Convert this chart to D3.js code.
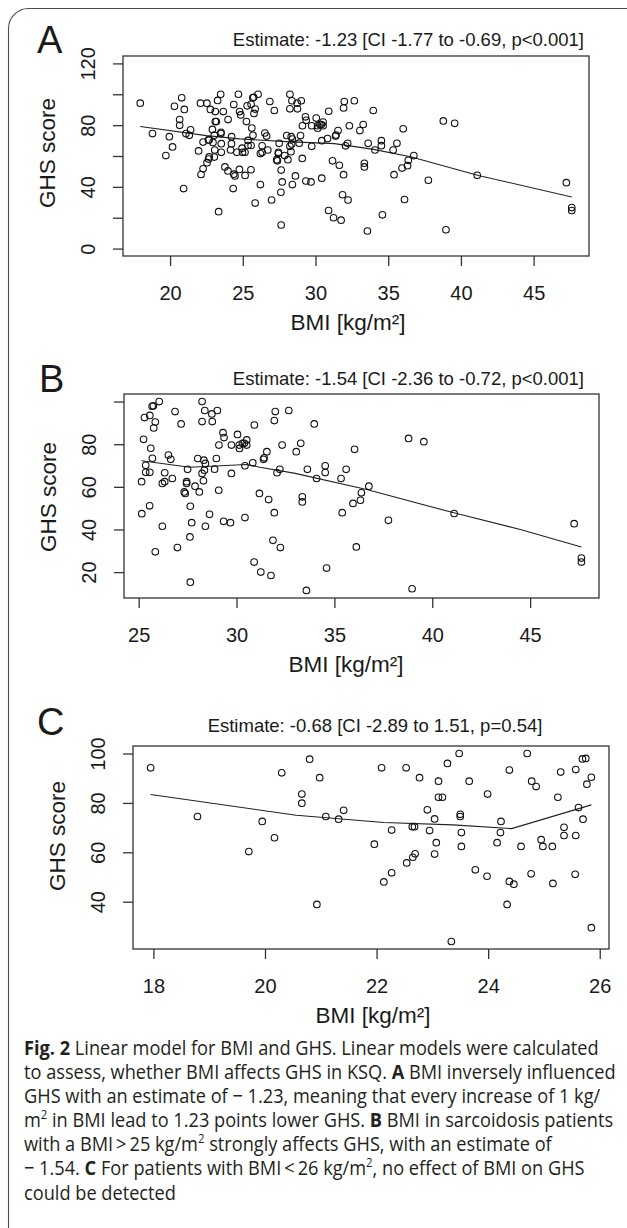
<!DOCTYPE html>
<html>
<head>
<meta charset="utf-8">
<script src="https://cdn.jsdelivr.net/npm/d3@7"></script>
<style>
  html, body { margin: 0; padding: 0; background: #fff; }
  svg { display: block; }
</style>
</head>
<body>
<svg id="fig"></svg>
<script>

// patients with BMI below 25 (shown in A and C)
var bmiUnder25 = [17.95,18.79,19.71,19.95,20.17,20.30,20.66,20.66,20.80,20.98,20.93,21.09,21.32,21.41,21.96,
  22.09,22.13,22.27,22.27,22.53,22.54,22.64,22.68,22.65,22.69,22.77,22.91,22.95,23.04,23.04,23.07,23.11,23.11,
  23.18,23.27,23.34,23.48,23.50,23.50,23.52,23.52,23.66,23.77,23.98,23.99,24.16,24.23,24.22,24.38,24.38,24.46,
  24.34,24.59,24.70,24.78,24.86,24.77,24.95,24.98];
var ghsUnder25 = [94.2,74.5,60.3,72.5,65.9,92.2,83.6,79.9,97.7,90.2,38.9,74.5,73.4,77.0,63.3,
  94.2,48.0,69.0,51.7,94.2,55.7,70.4,70.4,58.0,59.4,90.2,77.2,68.8,73.5,59.3,63.9,88.8,82.3,
  82.3,96.0,23.9,100,75.4,74.5,68.0,62.4,88.8,52.9,50.3,83.6,63.9,72.5,68.0,93.3,48.2,47.1,
  38.9,62.4,100,88.8,86.6,51.3,65.1,62.4];

// patients with BMI above 25 (shown in A and B, and in C when below 26)
var bmiOver25 = [25.15,25.16,25.25,25.30,25.36,25.36,25.57,25.56,25.57,25.62,25.69,25.75,25.70,25.77,25.85,25.85,
  26.05,26.86,27.17,28.24,28.38,28.74,29.02,28.24,28.76,29.31,29.36,29.10,29.74,30.05,30.14,30.30,30.40,30.52,30.52,30.15,30.91,31.98,31.93,32.67,32.33,33.05,33.28,
  26.52,26.64,26.33,26.21,26.33,26.72,27.50,27.45,27.45,27.33,27.38,27.88,28.10,28.02,28.33,28.41,28.36,28.24,28.31,28.97,28.88,29.09,29.74,
  27.64,26.21,27.71,27.62,26.98,28.41,28.62,29.34,29.69,30.43,27.64,
  30.43,30.83,31.38,31.41,31.55,32.07,32.21,31.17,31.64,31.93,31.86,32.24,30.90,31.24,31.76,
  33.97,33.62,34.09,34.53,34.53,33.36,33.36,34.60,33.57,36.03,35.60,35.34,35.40,35.95,36.33,36.38,36.76,36.12,37.76,38.79,39.57,38.97,41.12,47.25,47.62,47.62];
var ghsOver25 = [62.4,47.4,82.3,92.5,70.1,66.8,66.8,51.1,93.5,78.1,97.8,98.0,73.4,87.6,90.4,29.5,
  100,95.3,89.5,100,95.8,94.2,95.8,90.6,90.6,85.4,83.1,79.6,79.6,84.6,79.6,80.4,80.4,82.0,79.6,78.0,89.0,95.3,91.1,95.8,79.6,76.5,80.4,
  74.9,72.9,66.6,61.6,62.4,63.9,68.2,62.4,61.6,57.6,56.9,60.3,57.6,73.3,72.5,71.0,67.8,66.3,62.8,73.3,68.3,58.4,66.3,
  50.9,41.5,43.2,36.5,31.5,41.5,47.1,43.8,43.2,45.6,15.3,
  69.9,71.3,72.9,73.6,76.5,66.6,68.2,56.9,54.0,47.9,34.9,31.5,24.7,20.0,18.4,
  89.5,68.2,63.9,69.9,66.7,55.3,52.9,21.9,11.4,77.6,68.2,63.9,47.9,52.2,53.7,57.2,60.3,31.8,44.3,82.7,81.2,12.2,47.5,42.7,26.6,24.7];

// smoother lines
var lineA_bmi = [17.95,22.5,24.8,28.0,31.3,34.0,36.6,41.2,47.62];
var lineA_ghs = [79.1,73.2,71.1,69.3,68.0,64.3,59.3,47.4,33.4];
var lineB_bmi = [25.15,27.6,30.5,31.2,33.0,36.7,41.1,44.5,47.62];
var lineB_ghs = [72.2,69.2,70.5,69.2,66.3,58.6,47.8,40.0,31.8];
var lineC_bmi = [17.95,20.56,22.13,23.37,24.42,25.85];
var lineC_ghs = [83.4,75.0,72.1,71.1,69.6,79.2];

// ticks and labels
var xTicksA = [20,25,30,35,40,45];
var yTicksA = [0,20,40,60,80,100,120];
var yLabelsA = [0,40,80,120];
var xTicksB = [25,30,35,40,45];
var yTicksB = [20,40,60,80,100];
var yLabelsB = [20,40,60,80];
var xTicksC = [18,20,22,24,26];
var yTicksC = [40,60,80,100];
var yLabelsC = [40,60,80,100];

var titles = ["Estimate: -1.23 [CI -1.77 to -0.69, p<0.001]",
              "Estimate: -1.54 [CI -2.36 to -0.72, p<0.001]",
              "Estimate: -0.68 [CI -2.89 to 1.51, p=0.54]"];

var caption = [
  [["Fig. 2", "b"], ["  Linear model for BMI and GHS. Linear models were calculated"]],
  [["to assess, whether BMI affects GHS in KSQ. "], ["A", "b"], [" BMI inversely influenced"]],
  [["GHS with an estimate of \u2212 1.23, meaning that every increase of 1 kg/"]],
  [["m"], ["2", "sup"], [" in BMI lead to 1.23 points lower GHS. "], ["B", "b"], [" BMI in sarcoidosis patients"]],
  [["with a BMI\u2009>\u200925 kg/m"], ["2", "sup"], [" strongly affects GHS, with an estimate of"]],
  [["\u2212 1.54. "], ["C", "b"], [" For patients with BMI\u2009<\u200926 kg/m"], ["2", "sup"], [", no effect of BMI on GHS"]],
  [["could be detected"]]
];

var chartFont = "'Liberation Sans', Arial, Helvetica, sans-serif";
var ink = "#1a1a1a";

var svg = d3.select("#fig").attr("width", 627).attr("height", 1228);

svg.append("rect").attr("width", 627).attr("height", 1228).attr("fill", "#fff");

// rounded frame round the whole figure
svg.append("rect")
  .attr("x", 8.5).attr("y", 8.5)
  .attr("width", 680).attr("height", 1240)
  .attr("rx", 20)
  .attr("fill", "none")
  .attr("stroke", "#4a4a4a")
  .attr("stroke-width", 1.1);

// R style axis range: data extent plus 4% each side
function rRange(vals) {
  var e = d3.extent(vals);
  var pad = (e[1] - e[0]) * 0.04;
  return [e[0] - pad, e[1] + pad];
}

function renderPanel(p) {
  var box = p.box;
  var g = svg.append("g").attr("font-family", chartFont).attr("fill", ink);

  var x = d3.scaleLinear().domain(rRange(p.bmi)).range([box.left, box.right]);
  var y = d3.scaleLinear().domain(rRange(p.ylim || p.ghs)).range([box.bottom, box.top]);

  // x axis (box edge is the axis line)
  var xa = g.append("g")
    .attr("transform", `translate(0,${box.bottom})`)
    .call(d3.axisBottom(x).tickValues(p.xTicks).tickSize(10).tickPadding(20).tickFormat(d3.format("d")));
  xa.select(".domain").remove();
  xa.selectAll("line").attr("stroke", "#333").attr("stroke-width", 1.3);
  xa.selectAll("text").attr("font-size", 20).attr("fill", ink).attr("font-family", chartFont);

  // y axis with rotated labels
  var ya = g.append("g")
    .attr("transform", `translate(${box.left},0)`)
    .call(d3.axisLeft(y).tickValues(p.yTicks).tickSize(10)
      .tickFormat(d => p.yLabels.indexOf(d) >= 0 ? d : ""));
  ya.select(".domain").remove();
  ya.selectAll("line").attr("stroke", "#333").attr("stroke-width", 1.3);
  ya.selectAll("text")
    .attr("x", null).attr("dy", null)
    .attr("transform", "translate(-28,0) rotate(-90)")
    .attr("text-anchor", "middle")
    .attr("font-size", 20).attr("fill", ink).attr("font-family", chartFont);

  // plot box
  g.append("rect")
    .attr("x", box.left).attr("y", box.top)
    .attr("width", box.right - box.left).attr("height", box.bottom - box.top)
    .attr("fill", "none").attr("stroke", "#333").attr("stroke-width", 1.3);

  // smoother
  var line = d3.line().x(d => x(d[0])).y(d => y(d[1]));
  g.append("path")
    .datum(d3.zip(p.lineX, p.lineY))
    .attr("d", line)
    .attr("fill", "none").attr("stroke", "#222").attr("stroke-width", 1.1);

  // points
  g.append("g").selectAll("circle")
    .data(d3.zip(p.bmi, p.ghs))
    .join("circle")
      .attr("cx", d => x(d[0]))
      .attr("cy", d => y(d[1]))
      .attr("r", 3.3)
      .attr("fill", "none")
      .attr("stroke", "#111")
      .attr("stroke-width", 1.1);

  // texts
  g.append("text").text(p.letter)
    .attr("x", p.letterX).attr("y", p.letterY)
    .attr("font-size", 38);

  g.append("text").text(p.title)
    .attr("x", p.titleX).attr("y", p.titleY)
    .attr("text-anchor", p.titleAnchor)
    .attr("font-size", 18.5);

  g.append("text").text("BMI [kg/m\u00b2]")
    .attr("x", p.xlabX).attr("y", box.bottom + 74)
    .attr("text-anchor", "middle")
    .attr("font-size", 22.5);

  g.append("text").text("GHS score")
    .attr("transform", `translate(${box.left - 68},${p.ylabY}) rotate(-90)`)
    .attr("text-anchor", "middle")
    .attr("font-size", 22.5);
}

var allBmi = bmiUnder25.concat(bmiOver25);
var allGhs = ghsUnder25.concat(ghsOver25);

var cIdx = d3.range(bmiOver25.length).filter(i => bmiOver25[i] < 26);
var bmiC = bmiUnder25.concat(cIdx.map(i => bmiOver25[i]));
var ghsC = ghsUnder25.concat(cIdx.map(i => ghsOver25[i]));

renderPanel({
  letter: "A", letterX: 37, letterY: 53,
  box: {left: 123, right: 589, top: 56, bottom: 256},
  bmi: allBmi, ghs: allGhs, ylim: [0, 120],
  lineX: lineA_bmi, lineY: lineA_ghs,
  xTicks: xTicksA, yTicks: yTicksA, yLabels: yLabelsA,
  title: titles[0], titleX: 584, titleY: 46, titleAnchor: "end",
  xlabX: 348, ylabY: 153
});

renderPanel({
  letter: "B", letterX: 39, letterY: 392,
  box: {left: 124, right: 599, top: 394, bottom: 598},
  bmi: bmiOver25, ghs: ghsOver25,
  lineX: lineB_bmi, lineY: lineB_ghs,
  xTicks: xTicksB, yTicks: yTicksB, yLabels: yLabelsB,
  title: titles[1], titleX: 584, titleY: 385, titleAnchor: "end",
  xlabX: 346, ylabY: 497
});

renderPanel({
  letter: "C", letterX: 37, letterY: 735,
  box: {left: 133, right: 609, top: 746, bottom: 949},
  bmi: bmiC, ghs: ghsC,
  lineX: lineC_bmi, lineY: lineC_ghs,
  xTicks: xTicksC, yTicks: yTicksC, yLabels: yLabelsC,
  title: titles[2], titleX: 375, titleY: 732, titleAnchor: "middle",
  xlabX: 373, ylabY: 836
});

// caption: the print uses a narrow humanist face, so squeeze Open Sans sideways
var capFont = "'Open Sans', 'Noto Sans', sans-serif";
var capSize = 20;
var cap = svg.append("g").attr("font-family", capFont).attr("fill", "#231f20");

function captionLine(parent, parts, y, size) {
  var t = parent.append("text").attr("x", 0).attr("y", y).attr("font-size", size);
  var shifted = false;
  parts.forEach(function(part) {
    var ts = t.append("tspan").text(part[0]);
    if (part[1] == "b") ts.attr("font-weight", "bold");
    if (part[1] == "sup") {
      ts.attr("font-size", size * 0.62).attr("dy", -size * 0.42);
      shifted = true;
    } else if (shifted) {
      ts.attr("dy", size * 0.42);
      shifted = false;
    }
  });
  return t;
}

var capLines = caption.map(function(parts, i) {
  return captionLine(cap, parts, 1055 + i * 24.1, capSize);
});

// the four full lines run from x=24 to about x=616 in the print
var squeeze = d3.min(capLines.slice(0, 4), t => 592 / t.node().getComputedTextLength());
cap.attr("transform", `translate(24,0) scale(${squeeze},1)`);

</script>
</body>
</html>
